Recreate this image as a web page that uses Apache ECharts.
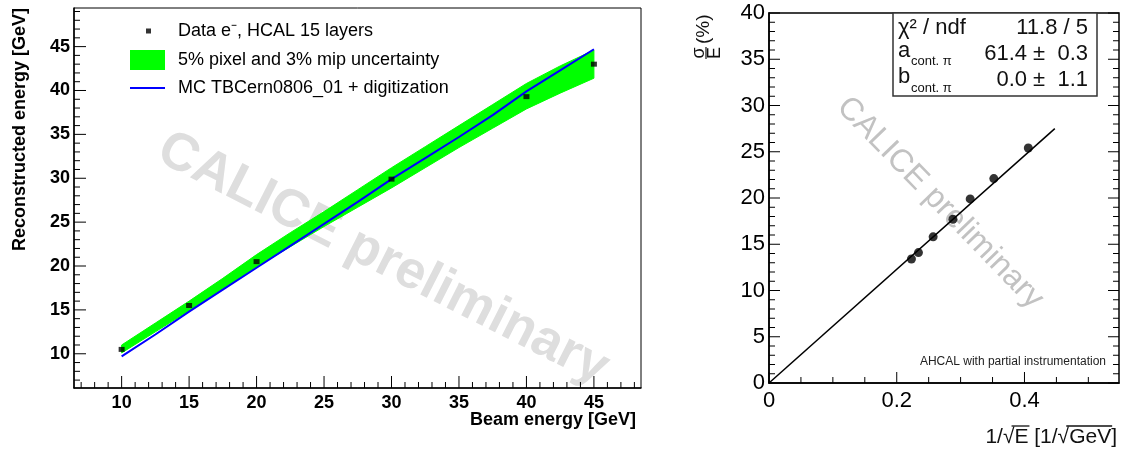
<!DOCTYPE html>
<html><head><meta charset="utf-8">
<script src="https://cdn.jsdelivr.net/npm/echarts@6/dist/echarts.min.js"></script>
<style>html,body{margin:0;padding:0;background:#fff}#c{width:1123px;height:453px}</style>
</head><body><div id="c"></div>
<script>
// ---------- Left panel: reconstructed vs beam energy ----------
const beamEnergy = [10, 15, 20, 30, 40, 45];
const recoEnergy = [10.5, 15.5, 20.5, 29.9, 39.3, 43.0];
const mcX = [10, 12.5, 15, 17.5, 20, 22.5, 25, 27.5, 30, 32.5, 35, 37.5, 40, 42.5, 45];
const mcY = [9.7, 12.2, 14.8, 17.3, 19.8, 22.3, 24.8, 27.3, 29.9, 32.3, 34.7, 37.2, 39.9, 42.3, 44.7];
const bandX = [10, 12.5, 15, 17.5, 20, 22.5, 25, 27.5, 30, 32.5, 35, 37.5, 40, 42.5, 45];
const bandUpper = [11.0, 13.5, 16.0, 18.6, 21.3, 23.8, 26.2, 28.7, 31.2, 33.6, 36.0, 38.4, 40.8, 42.8, 44.6];
const bandLower = [10.1, 12.5, 14.9, 17.4, 19.9, 22.2, 24.5, 26.7, 28.9, 31.2, 33.5, 35.7, 37.9, 39.7, 41.4];
const leftXTicks = [10, 15, 20, 25, 30, 35, 40, 45];
const leftXMinorTicks = [7, 8, 9, 11, 12, 13, 14, 16, 17, 18, 19, 21, 22, 23, 24, 26, 27, 28, 29, 31, 32, 33, 34, 36, 37, 38, 39, 41, 42, 43, 44, 46, 47, 48];
const leftYTicks = [10, 15, 20, 25, 30, 35, 40, 45];
const leftYMinorTicks = [7, 8, 9, 11, 12, 13, 14, 16, 17, 18, 19, 21, 22, 23, 24, 26, 27, 28, 29, 31, 32, 33, 34, 36, 37, 38, 39, 41, 42, 43, 44, 46, 47, 48, 49];
const LX_MIN = 6.47, LX_MAX = 48.49, LY_MIN = 6.1, LY_MAX = 49.4;

// ---------- Right panel: resolution vs 1/sqrt(E) ----------
const invSqrtE = [0.223, 0.234, 0.257, 0.288, 0.315, 0.352, 0.406];
const resolution = [13.4, 14.1, 15.8, 17.7, 19.9, 22.1, 25.4];
const fitX = [0, 0.4475];
const fitY = [0, 27.5];
const rightXLabels = [0, 0.2, 0.4];
const rightXMinorTicks = [0.05, 0.1, 0.15, 0.25, 0.3, 0.35, 0.45, 0.5];
const rightYTicks = [0, 5, 10, 15, 20, 25, 30, 35, 40];
const rightYMinorTicks = [1, 2, 3, 4, 6, 7, 8, 9, 11, 12, 13, 14, 16, 17, 18, 19, 21, 22, 23, 24, 26, 27, 28, 29, 31, 32, 33, 34, 36, 37, 38, 39];
const RX_MIN = 0, RX_MAX = 0.548, RY_MIN = 0, RY_MAX = 40;

const FONT = "'Liberation Sans', Arial, Helvetica, sans-serif";
const chart = echarts.init(document.getElementById('c'), null, {renderer: 'canvas'});

function axis(grid, min, max, vals, bold, size, margin) {
  return {
    type: 'value', gridIndex: grid, min: min, max: max,
    axisLine: {show: true, onZero: false, lineStyle: {color: '#000', width: 1.5}},
    axisTick: {show: false},
    axisLabel: {show: true, customValues: vals, color: '#000', fontFamily: FONT, fontSize: size, fontWeight: bold ? 'bold' : 'normal', margin: margin},
    splitLine: {show: false}
  };
}
// tick marks drawn through the axes' scales (api.coord)
function ticks(xi, yi, data, side, len) {
  return {
    type: 'custom', xAxisIndex: xi, yAxisIndex: yi, silent: true, clip: false, z: 6,
    data: data,
    renderItem: function (params, api) {
      const p = api.coord([api.value(0), api.value(1)]);
      let x2 = p[0], y2 = p[1];
      if (side === 'bottom') y2 -= len;
      else if (side === 'left') x2 += len;
      else if (side === 'right') x2 -= len;
      return {type: 'line', shape: {x1: p[0], y1: p[1], x2: x2, y2: y2}, style: {stroke: '#000', lineWidth: 1}};
    }
  };
}

// overline positions for the right x title
const mctx = document.createElement('canvas').getContext('2d');
const XT_FONT = '21px ' + FONT;
mctx.font = XT_FONT;
const xTitle = '1/\u221AE [1/\u221AGeV]';
const xTitleRight = 1117, xTitleY = 437;
const w = s => mctx.measureText(s).width;
const x0 = xTitleRight - w(xTitle);
const sq = w('\u221A');
const ol1a = x0 + w('1/') + sq * 0.75, ol1b = x0 + w('1/\u221AE') + 1;
const ol2a = x0 + w('1/\u221AE [1/') + sq * 0.75, ol2b = x0 + w('1/\u221AE [1/\u221AGeV') + 1;
const olY = xTitleY - 11;

const option = {
  animation: false,
  backgroundColor: '#fff',
  grid: [
    {left: 74, right: 482, top: 8, bottom: 65, show: true, borderColor: '#000', borderWidth: 1},
    {left: 769, right: 4, top: 13, bottom: 70, show: true, borderColor: '#000', borderWidth: 1.5}
  ],
  xAxis: [
    axis(0, LX_MIN, LX_MAX, leftXTicks, true, 18, 6),
    axis(1, RX_MIN, RX_MAX, rightXLabels, false, 22, 7)
  ],
  yAxis: [
    axis(0, LY_MIN, LY_MAX, leftYTicks, true, 18, 4),
    axis(1, RY_MIN, RY_MAX, rightYTicks, false, 22, 4)
  ],
  legend: [
    {data: [{name: 'Data e\u207B, HCAL 15 layers', icon: 'rect'}], left: 146, top: 22, padding: 0, orient: 'vertical',
     itemWidth: 5, itemHeight: 5, selectedMode: false,
     textStyle: {fontFamily: FONT, fontSize: 18, color: '#000', padding: [0, 0, 0, 22]}},
    {data: [{name: '5% pixel and 3% mip uncertainty', icon: 'rect'}], left: 130, top: 50, padding: 0, orient: 'vertical',
     itemWidth: 35, itemHeight: 20, selectedMode: false,
     textStyle: {fontFamily: FONT, fontSize: 18, color: '#000', padding: [0, 0, 0, 8]}},
    {data: [{name: 'MC TBCern0806_01 + digitization', icon: 'rect'}], left: 130, top: 79, padding: 0, orient: 'vertical',
     itemWidth: 35, itemHeight: 2, selectedMode: false,
     textStyle: {fontFamily: FONT, fontSize: 18, color: '#000', padding: [0, 0, 0, 8]}}
  ],
  series: [
    {
      name: '5% pixel and 3% mip uncertainty', type: 'custom', xAxisIndex: 0, yAxisIndex: 0,
      itemStyle: {color: '#00ff00'}, z: 2,
      data: [[bandX[0], bandLower[0]]],
      renderItem: function (params, api) {
        const pts = [];
        for (let i = 0; i < bandX.length; i++) pts.push(api.coord([bandX[i], bandUpper[i]]));
        for (let i = bandX.length - 1; i >= 0; i--) pts.push(api.coord([bandX[i], bandLower[i]]));
        return {type: 'polygon', shape: {points: pts}, style: {fill: '#00ff00', stroke: '#00ff00', lineWidth: 1}};
      }
    },
    {
      name: 'MC TBCern0806_01 + digitization', type: 'line', xAxisIndex: 0, yAxisIndex: 0,
      data: mcX.map((x, i) => [x, mcY[i]]), symbol: 'none', showSymbol: false,
      lineStyle: {color: '#0000ff', width: 2}, itemStyle: {color: '#0000ff'}, z: 3
    },
    {
      name: 'Data e\u207B, HCAL 15 layers', type: 'scatter', xAxisIndex: 0, yAxisIndex: 0,
      data: beamEnergy.map((x, i) => [x, recoEnergy[i]]), symbol: 'rect', symbolSize: [6, 5],
      itemStyle: {color: '#000'}, z: 4
    },
    {
      name: 'fit', type: 'line', xAxisIndex: 1, yAxisIndex: 1,
      data: fitX.map((x, i) => [x, fitY[i]]), symbol: 'none', showSymbol: false,
      lineStyle: {color: '#000', width: 1.5}, z: 3
    },
    {
      name: 'resolution', type: 'scatter', xAxisIndex: 1, yAxisIndex: 1,
      data: invSqrtE.map((x, i) => [x, resolution[i]]), symbol: 'circle', symbolSize: 9,
      itemStyle: {color: '#000'}, z: 4
    },
    // left panel ticks
    ticks(0, 0, leftXTicks.map(v => [v, LY_MIN]), 'bottom', 12),
    ticks(0, 0, leftXMinorTicks.map(v => [v, LY_MIN]), 'bottom', 6),
    ticks(0, 0, leftYTicks.map(v => [LX_MIN, v]), 'left', 12),
    ticks(0, 0, leftYMinorTicks.map(v => [LX_MIN, v]), 'left', 6),
    // right panel ticks
    ticks(1, 1, rightXLabels.map(v => [v, RY_MIN]), 'bottom', 11),
    ticks(1, 1, rightXMinorTicks.map(v => [v, RY_MIN]), 'bottom', 6),
    ticks(1, 1, rightYTicks.map(v => [RX_MIN, v]), 'left', 11),
    ticks(1, 1, rightYMinorTicks.map(v => [RX_MIN, v]), 'left', 6),
    ticks(1, 1, rightYTicks.map(v => [RX_MAX, v]), 'right', 11),
    ticks(1, 1, rightYMinorTicks.map(v => [RX_MAX, v]), 'right', 6)
  ],
  graphic: [
    // watermarks
    {type: 'text', x: 383, y: 259, rotation: -0.47, z: 0, silent: true,
     style: {text: 'CALICE preliminary', font: 'bold 53px ' + FONT, fill: '#dedede', textAlign: 'center', textVerticalAlign: 'middle'}},
    {type: 'text', x: 940, y: 203, rotation: -0.80, z: 0, silent: true,
     style: {text: 'CALICE preliminary', font: '32px ' + FONT, fill: '#c2c2c2', textAlign: 'center', textVerticalAlign: 'middle'}},
    // left axis titles
    {type: 'text', x: 20, y: 8, rotation: Math.PI / 2, z: 10,
     style: {text: 'Reconstructed energy [GeV]', font: 'bold 18px ' + FONT, fill: '#000', textAlign: 'right', textVerticalAlign: 'middle'}},
    {type: 'text', x: 636, y: 420, z: 10,
     style: {text: 'Beam energy [GeV]', font: 'bold 18px ' + FONT, fill: '#000', textAlign: 'right', textVerticalAlign: 'middle'}},
    // right axis titles
    {type: 'text', x: xTitleRight, y: xTitleY, z: 10,
     style: {text: xTitle, font: XT_FONT, fill: '#111', textAlign: 'right', textVerticalAlign: 'middle'}},
    {type: 'line', z: 10, shape: {x1: ol1a, y1: olY, x2: ol1b, y2: olY}, style: {stroke: '#111', lineWidth: 1.3}},
    {type: 'line', z: 10, shape: {x1: ol2a, y1: olY, x2: ol2b, y2: olY}, style: {stroke: '#111', lineWidth: 1.3}},
    {type: 'group', x: 706, y: 53, rotation: Math.PI / 2, z: 10, children: [
      {type: 'text', x: 0, y: -7, style: {text: '\u03C3', font: '18px ' + FONT, fill: '#111', textAlign: 'center', textVerticalAlign: 'middle'}},
      {type: 'line', shape: {x1: -6, y1: 0, x2: 6, y2: 0}, style: {stroke: '#111', lineWidth: 1.2}},
      {type: 'text', x: 0, y: 9, style: {text: 'E', font: '18px ' + FONT, fill: '#111', textAlign: 'center', textVerticalAlign: 'middle'}},
      {type: 'text', x: 9, y: -2, style: {text: '(%)', font: '19px ' + FONT, fill: '#111', textAlign: 'left', textVerticalAlign: 'middle'}}
    ]},
    // stats box
    {type: 'rect', z: 10, shape: {x: 893, y: 13, width: 204, height: 83}, style: {fill: '#fff', stroke: '#333', lineWidth: 1.5}},
    {type: 'text', x: 898, y: 28, z: 11, style: {text: '\u03C7\u00B2 / ndf', font: '22px ' + FONT, fill: '#111', textVerticalAlign: 'middle'}},
    {type: 'text', x: 1088, y: 28, z: 11, style: {text: '11.8 / 5', font: '22px ' + FONT, fill: '#111', textAlign: 'right', textVerticalAlign: 'middle'}},
    {type: 'text', x: 898, y: 51, z: 11, style: {text: 'a', font: '22px ' + FONT, fill: '#111', textVerticalAlign: 'middle'}},
    {type: 'text', x: 911, y: 61, z: 11, style: {text: 'cont. \u03C0', font: '13px ' + FONT, fill: '#111', textVerticalAlign: 'middle'}},
    {type: 'text', x: 1088, y: 54, z: 11, style: {text: '61.4 \u00B1  0.3', font: '22px ' + FONT, fill: '#111', textAlign: 'right', textVerticalAlign: 'middle'}},
    {type: 'text', x: 898, y: 77, z: 11, style: {text: 'b', font: '22px ' + FONT, fill: '#111', textVerticalAlign: 'middle'}},
    {type: 'text', x: 911, y: 88, z: 11, style: {text: 'cont. \u03C0', font: '13px ' + FONT, fill: '#111', textVerticalAlign: 'middle'}},
    {type: 'text', x: 1088, y: 80, z: 11, style: {text: '0.0 \u00B1  1.1', font: '22px ' + FONT, fill: '#111', textAlign: 'right', textVerticalAlign: 'middle'}},
    {type: 'text', x: 1106, y: 362, z: 10, style: {text: 'AHCAL with partial instrumentation', font: '12px ' + FONT, fill: '#222', textAlign: 'right', textVerticalAlign: 'middle'}}
  ]
};
chart.setOption(option);
</script></body></html>
